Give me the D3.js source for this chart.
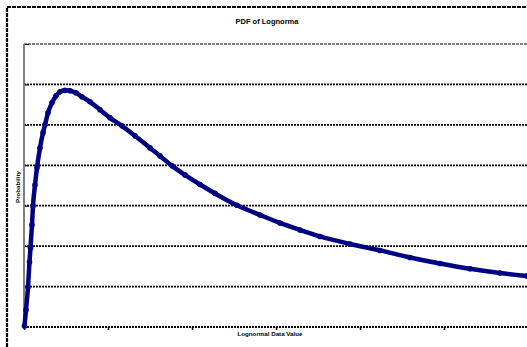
<!DOCTYPE html>
<html>
<head>
<meta charset="utf-8">
<script src="https://cdn.jsdelivr.net/npm/d3@7"></script>
<style>
  body { margin: 0; background: #fff; }
  svg { display: block; font-family: Arial, "Liberation Sans", sans-serif; }
</style>
</head>
<body>
<svg id="chart" width="527" height="347"></svg>
<script>
// values
var lognormalValue = [0.3, 1.19, 2.38, 3.27, 3.87, 4.76, 5.36, 6.55, 7.74, 9.52, 11.31, 12.5, 14.29,
  16.67, 19.05, 21.43, 24.4, 27.38, 30.95, 34.52, 39.29, 45.24, 51.19, 58.33, 66.07, 75, 80.95,
  88.1, 95.83, 104.76, 113.69, 126.79, 140.48, 152.38, 164.29, 176.19, 194.05, 211.9, 229.76,
  247.62, 265.48, 283.33, 299.4];
var probability = [0.0012, 0.021, 0.0495, 0.0804, 0.0978, 0.1262, 0.1498, 0.1757, 0.1968, 0.2215,
  0.2401, 0.25, 0.2649, 0.2772, 0.2859, 0.2908, 0.2927, 0.2921, 0.2896, 0.2847, 0.2785, 0.2686,
  0.2587, 0.2488, 0.2364, 0.2215, 0.2116, 0.1993, 0.1881, 0.1762, 0.1652, 0.1505, 0.1386, 0.1287,
  0.1200, 0.1120, 0.1027, 0.0947, 0.0860, 0.0785, 0.0720, 0.0668, 0.0631];
var xTicks = [0, 50, 100, 150, 200, 250, 300];
var yTicks = [0, 0.05, 0.1, 0.15, 0.2, 0.25, 0.3, 0.35];

var data = lognormalValue.map(function(d, i) { return { x: d, y: probability[i] }; });

var svg = d3.select("#chart");
var plotLeft = 24, plotTop = 44, plotRight = 528, plotBottom = 327;

var x = d3.scaleLinear().domain([0, 300]).range([plotLeft, plotRight]);
var y = d3.scaleLinear().domain([0, 0.35]).range([plotBottom, plotTop]);

// chart area border
svg.append("rect")
  .attr("x", 7).attr("y", 7)
  .attr("width", 540).attr("height", 360)
  .attr("fill", "none")
  .attr("stroke", "#000")
  .attr("stroke-width", 2.2)
  .attr("stroke-dasharray", "4,1");

// plot area top
svg.append("line")
  .attr("x1", plotLeft).attr("x2", 527)
  .attr("y1", plotTop).attr("y2", plotTop)
  .attr("stroke", "#808080")
  .attr("stroke-width", 2)
  .attr("stroke-dasharray", "3,1");

// gridlines
svg.append("g")
  .selectAll("line")
  .data(yTicks.filter(function(d) { return d > 0 && d < 0.35; }))
  .enter()
  .append("line")
  .attr("x1", plotLeft).attr("x2", 527)
  .attr("y1", function(d) { return y(d); })
  .attr("y2", function(d) { return y(d); })
  .attr("stroke", "#000")
  .attr("stroke-width", 1.8)
  .attr("stroke-dasharray", "2,1");

// x axis
var xAxis = svg.append("g")
  .attr("class", "x axis")
  .attr("transform", "translate(0," + plotBottom + ")")
  .call(d3.axisBottom(x).tickValues(xTicks).tickSize(3).tickFormat(""));
xAxis.select(".domain").remove();
xAxis.selectAll("line").attr("stroke", "#000").attr("stroke-width", 1.5);
svg.append("line")
  .attr("x1", plotLeft).attr("x2", 527)
  .attr("y1", plotBottom).attr("y2", plotBottom)
  .attr("stroke", "#000")
  .attr("stroke-width", 1.8)
  .attr("stroke-dasharray", "2,1");

// y axis
var yAxis = svg.append("g")
  .attr("class", "y axis")
  .attr("transform", "translate(" + plotLeft + ",0)")
  .call(d3.axisRight(y).tickValues(yTicks).tickSize(5).tickFormat(""));
yAxis.select(".domain").remove();
yAxis.selectAll("line").attr("stroke", "#000");
svg.append("line")
  .attr("x1", plotLeft).attr("x2", plotLeft)
  .attr("y1", plotTop).attr("y2", plotBottom + 1)
  .attr("stroke", "#808080")
  .attr("stroke-width", 2);

// series
var line = d3.line()
  .x(function(d) { return x(d.x); })
  .y(function(d) { return y(d.y); })
  .curve(d3.curveMonotoneX);

svg.append("path")
  .datum(data)
  .attr("d", line)
  .attr("fill", "none")
  .attr("stroke", "#000080")
  .attr("stroke-width", 4.5)
  .attr("stroke-linejoin", "round");

svg.append("g")
  .selectAll("circle")
  .data(data)
  .enter()
  .append("circle")
  .attr("cx", function(d) { return x(d.x); })
  .attr("cy", function(d) { return y(d.y); })
  .attr("r", 2.8)
  .attr("fill", "#000080");

// texts
svg.append("text")
  .attr("x", 267).attr("y", 24)
  .attr("text-anchor", "middle")
  .attr("font-size", 7.5)
  .attr("font-weight", "bold")
  .text("PDF of Lognorma");

svg.append("text")
  .attr("x", 270).attr("y", 336)
  .attr("text-anchor", "middle")
  .attr("font-size", 6.2)
  .attr("font-weight", "bold")
  .text("Lognormal Data Value");

svg.append("text")
  .attr("transform", "translate(20,187) rotate(-90)")
  .attr("text-anchor", "middle")
  .attr("font-size", 6.2)
  .attr("font-weight", "bold")
  .text("Probability");
</script>
</body>
</html>
